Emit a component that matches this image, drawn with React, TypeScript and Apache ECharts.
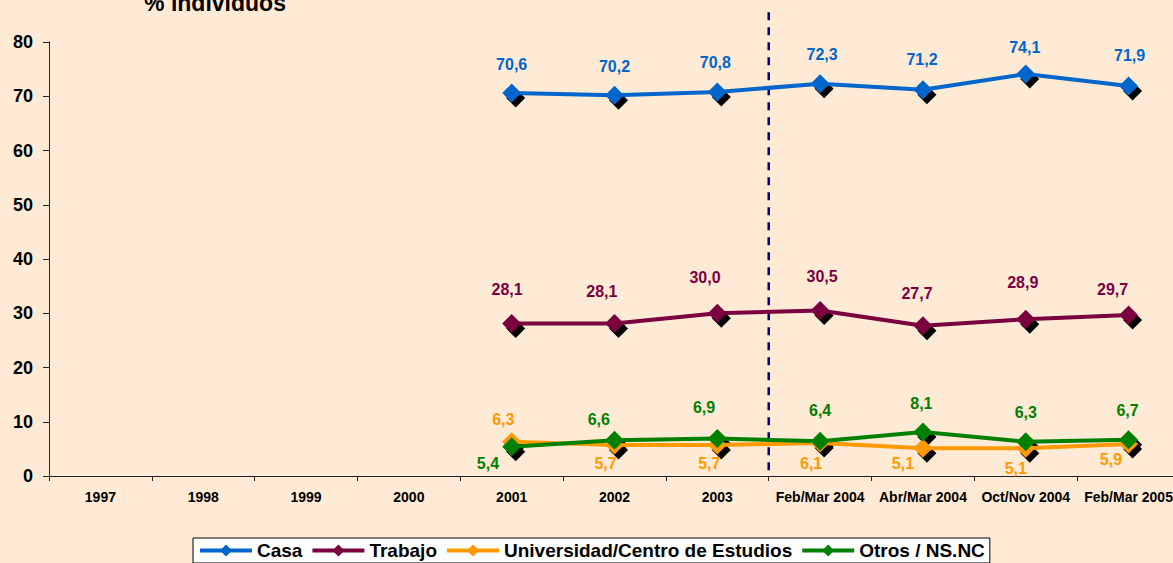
import React, { useEffect, useRef } from 'react';
import * as echarts from 'echarts';

// Survey periods on the horizontal axis
const categories = [
  '1997', '1998', '1999', '2000', '2001', '2002', '2003',
  'Feb/Mar 2004', 'Abr/Mar 2004', 'Oct/Nov 2004', 'Feb/Mar 2005',
];

// Place of Internet access, % of individuals (2001 onwards)
const casa = [70.6, 70.2, 70.8, 72.3, 71.2, 74.1, 71.9];
const trabajo = [28.1, 28.1, 30.0, 30.5, 27.7, 28.9, 29.7];
const universidad = [6.3, 5.7, 5.7, 6.1, 5.1, 5.1, 5.9];
const otros = [5.4, 6.6, 6.9, 6.4, 8.1, 6.3, 6.7];

const seriesNames = ['Casa', 'Trabajo', 'Universidad/Centro de Estudios', 'Otros / NS.NC'];
const seriesColors = ['#0066CC', '#7A0040', '#FF9900', '#008000'];

// Label placement (pixel offsets from each marker centre)
const labelOffsets: number[][][] = [
  [[0, -28.5], [0, -28.5], [-2, -29], [2, -29], [-1, -30], [-1, -27], [1, -30]],
  [[-4.6, -33.7], [-12.7, -32], [-12.3, -36], [2, -34], [-6, -32], [-3, -37], [-16, -25.6]],
  [[-8.4, -22], [-9, 18], [-8, 18], [-9, 21], [-20, 15], [-10, 20], [-17.6, 16]],
  [[-23.7, 16.6], [-15.7, -20.7], [-13.3, -30.7], [0, -31], [-1.6, -29], [0, -29], [-1, -29.3]],
];

const FONT = '"Liberation Sans", Arial, sans-serif';
const BG = '#FFEAD5';

const padToAxis = (vals: number[]) =>
  [...new Array(categories.length - vals.length).fill(null), ...vals];

const fmt = (v: number) => v.toFixed(1).replace('.', ',');

export default function App() {
  const ref = useRef<HTMLDivElement>(null);

  useEffect(() => {
    document.body.style.margin = '0';
    const chart = echarts.init(ref.current!, null, { renderer: 'svg' });
    const all = [casa, trabajo, universidad, otros];

    // Offset black diamonds drawn beneath the markers
    const shadowSeries = all.map((vals, i) => ({
      name: seriesNames[i] + ' sombra',
      type: 'line',
      data: padToAxis(vals),
      symbol: 'diamond',
      symbolSize: 19,
      symbolOffset: [4, 5],
      showSymbol: true,
      itemStyle: { color: '#000000' },
      lineStyle: { width: 0, opacity: 0 },
      label: { show: false },
      silent: true,
      legendHoverLink: false,
      z: 1,
    }));

    const mainSeries = all.map((vals, i) => {
      const n = categories.length - vals.length;
      const data = padToAxis(vals).map((v, j) =>
        v == null
          ? null
          : { value: v, label: { offset: labelOffsets[i][j - n] } }
      );
      return {
        name: seriesNames[i],
        type: 'line',
        data,
        symbol: 'diamond',
        symbolSize: 19,
        showSymbol: true,
        color: seriesColors[i],
        itemStyle: { color: seriesColors[i] },
        lineStyle: { color: seriesColors[i], width: 4 },
        label: {
          show: true,
          position: 'inside',
          color: seriesColors[i],
          fontFamily: FONT,
          fontWeight: 'bold',
          fontSize: 16,
          formatter: (p: any) => fmt(p.value),
        },
        emphasis: { disabled: true },
        z: 2,
      };
    });

    chart.setOption({
      animation: false,
      backgroundColor: BG,
      textStyle: { fontFamily: FONT },
      grid: {
        left: 49,
        top: 42,
        width: 1131,
        height: 434,
        containLabel: false,
        outerBoundsMode: 'none',
      },
      legend: {
        data: seriesNames,
        left: 193,
        top: 538,
        orient: 'horizontal',
        itemWidth: 52,
        itemHeight: 15,
        itemGap: 8,
        padding: [3, 5, 3, 5],
        backgroundColor: '#FFFFFF',
        borderColor: '#000000',
        borderWidth: 1,
        borderRadius: 0,
        lineStyle: { width: 4 },
        textStyle: { fontFamily: FONT, fontWeight: 'bold', fontSize: 19, color: '#000' },
      },
      xAxis: {
        type: 'category',
        data: categories,
        boundaryGap: true,
        axisLine: { show: true, lineStyle: { color: '#222', width: 1 } },
        axisTick: { show: true, inside: false, length: 5, lineStyle: { color: '#222' } },
        axisLabel: {
          interval: 0,
          margin: 14,
          color: '#000',
          fontFamily: FONT,
          fontWeight: 'bold',
          fontSize: 14,
        },
        splitLine: { show: false },
      },
      yAxis: {
        type: 'value',
        min: 0,
        max: 80,
        interval: 10,
        axisLine: { show: true, lineStyle: { color: '#222', width: 1 } },
        axisTick: { show: true, inside: false, length: 6, lineStyle: { color: '#222' } },
        axisLabel: {
          margin: 16,
          color: '#000',
          fontFamily: FONT,
          fontWeight: 'bold',
          fontSize: 18,
        },
        splitLine: { show: false },
      },
      tooltip: { show: false },
      graphic: [
        {
          id: 'title',
          type: 'text',
          x: 215,
          y: 14,
          style: {
            text: '% individuos',
            fill: '#000',
            font: 'bold 23px ' + FONT,
            align: 'center',
            verticalAlign: 'bottom',
          },
        },
      ],
      series: [...shadowSeries, ...mainSeries],
    });

    // Dashed divider between the yearly and the half-yearly surveys
    const xa = chart.convertToPixel({ xAxisIndex: 0 }, categories[6]) as number;
    const xb = chart.convertToPixel({ xAxisIndex: 0 }, categories[7]) as number;
    const yTop = chart.convertToPixel({ yAxisIndex: 0 }, 85.5) as number;
    const yBottom = chart.convertToPixel({ yAxisIndex: 0 }, 0.8) as number;
    const xDiv = (xa + xb) / 2;
    chart.setOption({
      graphic: [
        {
          id: 'divider',
          type: 'line',
          shape: { x1: xDiv, y1: yTop, x2: xDiv, y2: yBottom },
          style: { stroke: '#000080', lineWidth: 2.5, lineDash: [8, 7] },
          z: 0,
        },
      ],
    });

    return () => chart.dispose();
  }, []);

  return (
    <div
      ref={ref}
      style={{ position: 'fixed', left: 0, top: 0, width: 1173, height: 563 }}
    />
  );
}
